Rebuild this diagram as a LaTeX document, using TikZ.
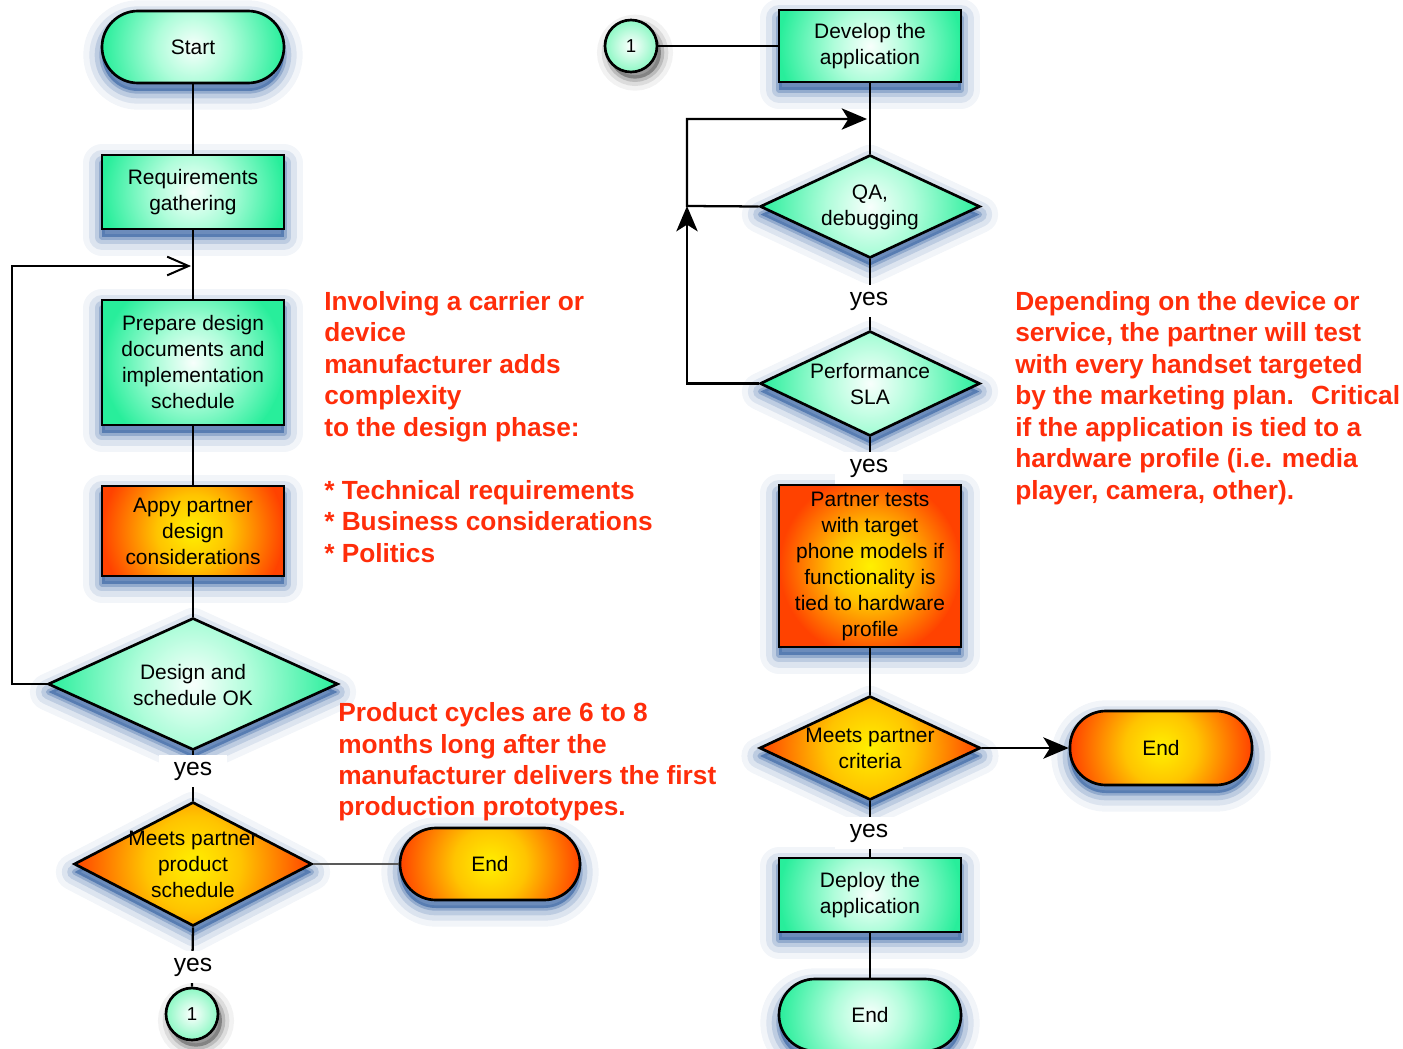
\documentclass[tikz,border=0pt]{standalone}
\usepackage{fontspec}
\setmainfont{Liberation Sans}
\usetikzlibrary{shapes.geometric,arrows.meta}
\definecolor{mint}{RGB}{40,238,155}
\definecolor{mintm}{RGB}{175,253,218}
\definecolor{mintc}{RGB}{248,255,252}
\definecolor{mintl}{RGB}{140,248,196}
\definecolor{hotc}{RGB}{255,240,0}
\definecolor{hotm}{RGB}{255,196,0}
\definecolor{hoto}{RGB}{255,66,0}
\definecolor{glowc}{RGB}{28,78,150}
\definecolor{notec}{RGB}{255,45,10}
% circular gradients, 25bp = radius of the shaded circle
\pgfdeclareradialshading{calmshade}{\pgfpointorigin}{color(0bp)=(mintc); color(10bp)=(mintm); color(25bp)=(mint); color(50bp)=(mint)}
\pgfdeclareradialshading{hotshade}{\pgfpointorigin}{color(0bp)=(hotc); color(10bp)=(hotm); color(25bp)=(hoto); color(50bp)=(hoto)}
\pgfdeclareradialshading{tokenshade}{\pgfpointorigin}{color(0bp)=(white); color(25bp)=(mintl); color(50bp)=(mintl)}
\tikzset{
  glow/.style={
    preaction={draw=glowc, draw opacity=.06, line width=28pt, line join=round, transform canvas={yshift=-6pt}},
    preaction={draw=glowc, draw opacity=.10, line width=19pt, line join=round, transform canvas={yshift=-6pt}},
    preaction={draw=glowc, draw opacity=.16, line width=11pt, line join=round, transform canvas={yshift=-6pt}},
    preaction={draw=glowc, draw opacity=.26, line width=4pt, line join=round, transform canvas={yshift=-6pt}},
    preaction={fill=glowc, fill opacity=.5, transform canvas={yshift=-6pt}}},
  darkglow/.style={
    preaction={draw=black, draw opacity=.05, line width=18pt, transform canvas={xshift=3pt,yshift=-5pt}},
    preaction={draw=black, draw opacity=.09, line width=11pt, transform canvas={xshift=3pt,yshift=-5pt}},
    preaction={draw=black, draw opacity=.15, line width=5pt, transform canvas={xshift=3pt,yshift=-5pt}},
    preaction={fill=black, fill opacity=.3, transform canvas={xshift=3pt,yshift=-5pt}}},
  calm/.style={fill=mint, path picture={\shade[shading=calmshade] (path picture bounding box.center) circle (#1);}},
  calm/.default=68pt,
  hot/.style={fill=hoto, path picture={\shade[shading=hotshade] (path picture bounding box.center) circle (#1);}},
  hot/.default=68pt,
  box/.style={rectangle, draw=black, line width=2pt, inner sep=0pt, align=center,
    font=\fontsize{15.7}{19.5}\selectfont, glow, minimum width=136.5pt},
  stadium/.style={box, rounded corners=27pt},
  dia/.style={diamond, draw=black, line width=2pt, inner sep=0pt, glow},
  diatext/.style={align=center, inner sep=0pt, font=\fontsize{15.7}{19.5}\selectfont},
  conn/.style={circle, draw=black, line width=2pt, inner sep=0pt, minimum size=39pt,
    font=\fontsize{14}{16}\selectfont, darkglow, fill=mintl,
    path picture={\shade[shading=tokenshade] (path picture bounding box.center) circle (19.5pt);}},
  link/.style={line width=1.7pt},
  yeslab/.style={fill=white, inner sep=0pt, minimum width=51pt, minimum height=24pt,
    font=\fontsize{18.5}{22}\selectfont},
  note/.style={text=notec, align=left, anchor=west, inner sep=0pt,
    font=\fontsize{19.7}{23.6}\selectfont\bfseries},
  tipfull/.style={-{Stealth[length=19pt,width=16pt,inset=5pt]}},
  tipopen/.style={-{Straight Barb[length=16pt,width=14pt,line width=1.5pt]}}
}
\begin{document}
\begin{tikzpicture}[x=0.75pt,y=-0.75pt]
\useasboundingbox (0,0) rectangle (1403,1049);

% left column
\node[stadium, calm, minimum height=54pt] (start) at (193,47) {Start};
\node[box, calm, minimum height=55.5pt] (req) at (193,192) {Requirements\\gathering};
\node[box, calm, minimum height=93.75pt] (prep) at (193,362.5) {Prepare design\\documents and\\implementation\\schedule};
\node[box, hot, minimum height=67.5pt] (appy) at (193,531) {Appy partner\\design\\considerations};
\node[dia, calm=108pt, minimum width=217.5pt, minimum height=99pt] (dso) at (193,684) {};
\node[diatext] (dsoT) at (193,685) {Design and\\schedule OK};
\node[dia, hot=89pt, minimum width=178.5pt, minimum height=93pt] (mpps) at (193,864) {};
\node[diatext] (mppsT) at (193,864) {Meets partner\\product\\schedule};
\node[stadium, hot, minimum width=135pt, minimum height=54pt] (endA) at (490,864) {End};
\node[conn] (cA) at (192,1014) {1};

% right column
\node[conn] (cB) at (631,46) {1};
\node[box, calm, minimum height=54pt] (dev) at (870,46) {Develop the\\application};
\node[dia, calm=82pt, minimum width=165pt, minimum height=77.25pt] (qa) at (870,206.5) {};
\node[diatext] (qaT) at (870,207.5) {QA,\\debugging};
\node[dia, calm=82pt, minimum width=165pt, minimum height=78.75pt] (perf) at (870,383.5) {};
\node[diatext] (perfT) at (870,384) {Performance\\SLA};
\node[box, hot, minimum height=121.5pt] (pt) at (870,566) {Partner tests\\with target\\phone models if\\functionality is\\tied to hardware\\profile};
\node[dia, hot=83pt, minimum width=165.75pt, minimum height=78pt] (mpc) at (870,748) {};
\node[diatext] (mpcT) at (870,748) {Meets partner\\criteria};
\node[stadium, hot, minimum height=55.5pt] (endB) at (1161,748) {End};
\node[box, calm, minimum height=55.5pt] (dep) at (870,895) {Deploy the\\application};
\node[stadium, calm, minimum height=54pt] (endC) at (870,1015) {End};

% loop targets and corners
\coordinate (lp) at (191,266);
\coordinate (dq) at (867,119);
\coordinate (qc) at (687,206);

% connectors, left
\draw[link] (start.south) -- (req.north);
\draw[link] (req.south) -- (prep.north);
\draw[link] (prep.south) -- (appy.north);
\draw[link] (appy.south) -- (dso.north);
\draw[link, tipopen] (dso.west) -- ++(-35,0) |- (lp);
\draw[link] (dso.south) -- (mpps.north);
\draw[draw=black!65, line width=0.8pt] (mpps.east) -- (endA.west);
\draw[link] (mpps.south) -- (cA.north);

% connectors, right
\draw[link] (cB.east) -- (dev.west);
\draw[link] (dev.south) -- (qa.north);
\draw[link, tipfull] (qa.west) -- (qc) |- (dq);
\draw[link, tipfull] (perf.west) -| (qc);
\draw[link] (qa.south) -- (perf.north);
\draw[link] (perf.south) -- (pt.north);
\draw[link] (pt.south) -- (mpc.north);
\draw[link, tipfull] (mpc.east) -- (endB.west);
\draw[link] (mpc.south) -- (dep.north);
\draw[link] (dep.south) -- (endC.north);

% branch labels
\node[yeslab] (y1) at (193,771) {yes};
\node[yeslab] (y2) at (193,967) {yes};
\node[yeslab] (y3) at (869,301) {yes};
\node[yeslab] (y4) at (869,468) {yes};
\node[yeslab] (y5) at (869,833) {yes};

% notes
\node[note] (n1) at (324,427) {Involving a carrier or\\device\\manufacturer adds\\complexity\\to the design phase:\\[23.6pt]* Technical requirements\\* Business considerations\\* Politics};
\node[note] (n2) at (338,762) {Product cycles are 6 to 8\\months long after the\\manufacturer delivers the first\\production prototypes.};
\node[note] (n3) at (1015,398) {Depending on the device or\\service, the partner will test\\with every handset targeted\\by the marketing plan.~ Critical\\if the application is tied to a\\hardware profile (i.e. media\\player, camera, other).};
\end{tikzpicture}
\end{document}
